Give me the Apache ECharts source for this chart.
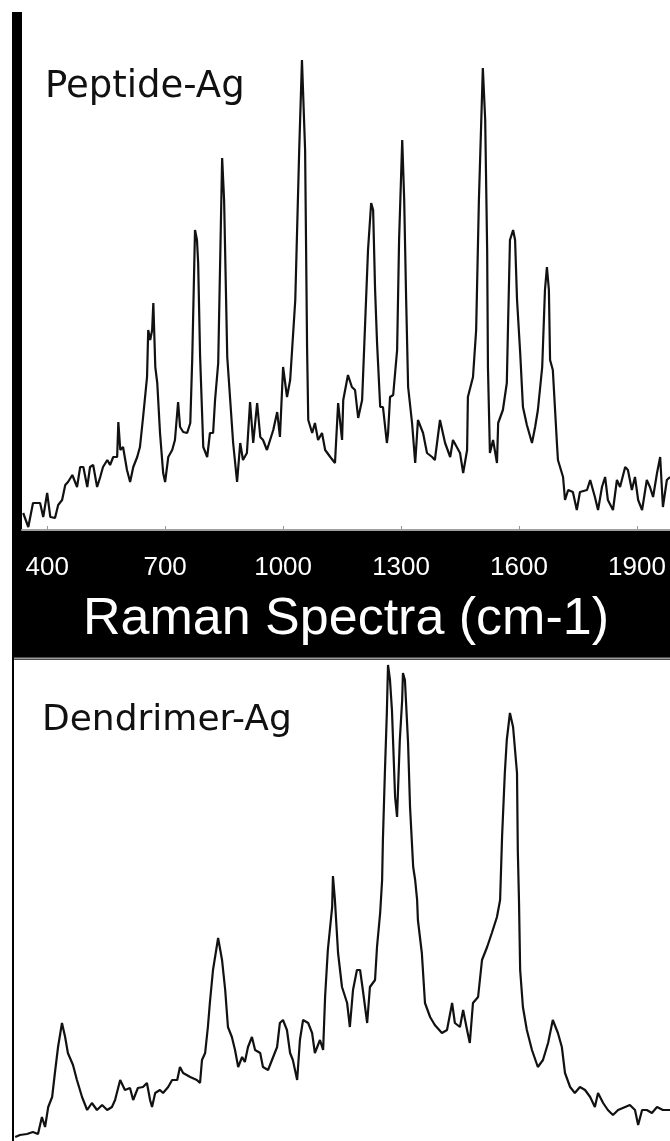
<!DOCTYPE html>
<html>
<head>
<meta charset="utf-8">
<script src="https://cdn.jsdelivr.net/npm/echarts@6/dist/echarts.min.js"></script>
<style>
  html, body { margin: 0; padding: 0; background: #fff; }
  #chart { width: 670px; height: 1141px; }
</style>
</head>
<body>
<div id="chart"></div>
<script>
// ---- data (wavenumber in cm-1, intensity in arbitrary units) ----
const xTicks = [400, 700, 1000, 1300, 1600, 1900];
const axisTitle = 'Raman Spectra (cm-1)';
const peptideLabel = 'Peptide-Ag';
const dendrimerLabel = 'Dendrimer-Ag';

const peptideWavenumber = [339,352,364,382,390,400,408,420,428,438,446,453,464,476,484,492,502,509,517,527,535,542,553,560,568,578,581,586,593,603,611,619,629,636,644,654,657,662,667,670,675,680,687,695,700,708,718,725,733,738,746,756,764,769,776,781,784,789,797,807,814,822,827,835,845,850,858,873,883,891,898,908,916,924,934,942,949,959,967,975,985,992,1000,1010,1018,1031,1041,1048,1056,1061,1064,1074,1081,1089,1099,1107,1120,1132,1140,1150,1153,1165,1175,1183,1191,1201,1209,1216,1224,1229,1234,1239,1247,1254,1264,1267,1272,1280,1290,1295,1303,1308,1313,1318,1328,1336,1343,1356,1366,1379,1386,1399,1412,1425,1432,1450,1458,1468,1470,1483,1491,1498,1508,1514,1519,1521,1526,1534,1544,1547,1559,1569,1572,1577,1585,1590,1595,1603,1610,1620,1633,1641,1648,1659,1666,1671,1676,1679,1686,1697,1699,1712,1717,1725,1737,1747,1755,1773,1781,1793,1801,1811,1819,1826,1839,1849,1857,1870,1877,1887,1895,1903,1913,1925,1933,1941,1951,1959,1966,1976,1984];
const peptideIntensity = [17,3,27,27,13,37,13,12,25,30,45,48,55,43,63,63,43,63,65,43,53,63,70,65,73,73,108,80,83,60,48,63,73,83,113,153,200,190,200,227,163,147,97,57,48,73,80,90,128,103,98,97,107,172,300,290,267,173,83,73,97,97,130,167,372,330,173,87,48,87,70,77,128,87,127,93,90,80,90,100,118,93,163,133,150,230,380,470,380,183,110,97,107,90,97,80,73,67,127,90,130,155,143,140,112,130,210,280,327,320,240,187,123,123,87,97,133,135,180,290,390,330,230,143,107,67,110,97,77,73,70,110,87,73,90,77,57,80,133,153,200,330,462,410,280,163,77,90,67,107,120,147,203,290,300,290,230,177,123,105,87,103,120,163,240,263,240,170,160,83,70,53,30,40,38,20,38,40,50,33,20,43,53,30,20,50,43,63,60,40,53,30,20,50,43,33,57,73,23,50,53];

const dendrimerWavenumber = [319,331,349,364,377,387,395,403,413,420,428,438,446,453,466,476,489,502,514,527,540,553,565,573,586,598,611,619,631,644,654,662,667,675,687,695,708,718,731,738,746,764,781,789,794,802,809,814,822,835,845,853,860,870,878,886,896,903,911,921,929,942,949,962,972,985,992,1000,1010,1018,1025,1036,1043,1051,1064,1074,1081,1094,1102,1107,1114,1125,1127,1132,1140,1150,1163,1170,1178,1188,1196,1203,1214,1221,1234,1239,1247,1252,1254,1259,1264,1267,1272,1277,1285,1290,1297,1303,1305,1310,1318,1323,1331,1336,1341,1343,1353,1361,1374,1386,1404,1417,1430,1437,1450,1458,1468,1475,1483,1496,1506,1519,1531,1544,1552,1557,1564,1569,1577,1585,1595,1597,1600,1603,1610,1620,1633,1648,1661,1674,1686,1699,1709,1717,1730,1742,1755,1768,1781,1793,1801,1814,1826,1839,1852,1870,1882,1895,1903,1913,1925,1938,1951,1966,1984];
const dendrimerIntensity = [4,6,7,9,7,24,14,34,44,68,94,118,104,88,76,61,44,31,38,31,36,31,34,41,61,51,53,41,53,54,58,41,34,48,51,48,54,61,61,74,68,64,61,58,81,88,114,138,171,203,181,151,114,104,91,74,84,79,94,104,91,88,74,71,81,94,118,121,111,88,81,61,101,121,118,108,88,101,91,144,191,234,265,241,188,154,138,114,151,171,171,151,118,154,161,194,228,261,301,368,428,476,461,431,344,324,401,441,468,461,398,334,274,261,241,221,188,138,124,116,108,111,138,118,114,131,111,98,138,144,181,194,208,224,241,304,368,401,428,414,368,291,241,171,134,111,91,74,81,98,121,108,94,68,54,48,54,51,44,34,48,38,31,26,31,34,36,31,16,31,31,28,34,31,31];

function zip(xs, ys) { return xs.map((x, i) => [x, ys[i]]); }

const chart = echarts.init(document.getElementById('chart'), null, { renderer: 'canvas' });

const option = {
  backgroundColor: '#ffffff',
  animation: false,
  graphic: [
    { type: 'rect', z: -10, shape: { x: 12, y: 12, width: 658, height: 1129 }, style: { fill: '#000' } },
    { type: 'rect', z: 50, shape: { x: 14, y: 657.5, width: 656, height: 2 }, style: { fill: '#9a9a9a' } },
    { type: 'text', z: 50, style: { text: peptideLabel, x: 45, y: 87, fill: '#111', fontFamily: 'DejaVu Sans', fontSize: 37, textVerticalAlign: 'middle', verticalAlign: 'middle' } },
    { type: 'text', z: 50, style: { text: dendrimerLabel, x: 42, y: 721, fill: '#111', fontFamily: 'DejaVu Sans', fontSize: 36, textVerticalAlign: 'middle', verticalAlign: 'middle' } }
  ],
  grid: [
    { left: 22, top: 12, width: 648, height: 518, show: true, backgroundColor: '#ffffff', borderWidth: 0 },
    { left: 14, top: 660, width: 656, height: 481, show: true, backgroundColor: '#ffffff', borderWidth: 0 }
  ],
  xAxis: [
    {
      type: 'value', gridIndex: 0, min: 336, max: 1984,
      name: axisTitle, nameLocation: 'middle', nameGap: 64,
      nameTextStyle: { color: '#fff', fontSize: 52, fontFamily: 'Liberation Sans, Arial, sans-serif' },
      axisLine: { show: true, lineStyle: { color: '#a0a0a0', width: 2 } },
      axisTick: { show: true, inside: true, length: 4, customValues: xTicks, lineStyle: { color: '#999', width: 1 } },
      axisLabel: { show: true, customValues: xTicks, color: '#fff', fontSize: 26, margin: 25,
        formatter: function (v) { return String(v); },
        fontFamily: '"Liberation Sans Narrow", "Arial Narrow", "Liberation Sans", sans-serif' },
      splitLine: { show: false }
    },
    {
      type: 'value', gridIndex: 1, min: 316, max: 1984,
      axisLine: { show: false }, axisTick: { show: false }, axisLabel: { show: false }, splitLine: { show: false }
    }
  ],
  yAxis: [
    { type: 'value', gridIndex: 0, min: 0, max: 518, show: false, splitLine: { show: false } },
    { type: 'value', gridIndex: 1, min: 0, max: 481, show: false, splitLine: { show: false } }
  ],
  series: [
    {
      name: peptideLabel, type: 'line', xAxisIndex: 0, yAxisIndex: 0,
      data: zip(peptideWavenumber, peptideIntensity),
      showSymbol: false, smooth: false, clip: true,
      lineStyle: { color: '#111', width: 2.2 }
    },
    {
      name: dendrimerLabel, type: 'line', xAxisIndex: 1, yAxisIndex: 1,
      data: zip(dendrimerWavenumber, dendrimerIntensity),
      showSymbol: false, smooth: false, clip: true,
      lineStyle: { color: '#111', width: 2.2 }
    }
  ]
};
chart.setOption(option);
</script>
</body>
</html>
